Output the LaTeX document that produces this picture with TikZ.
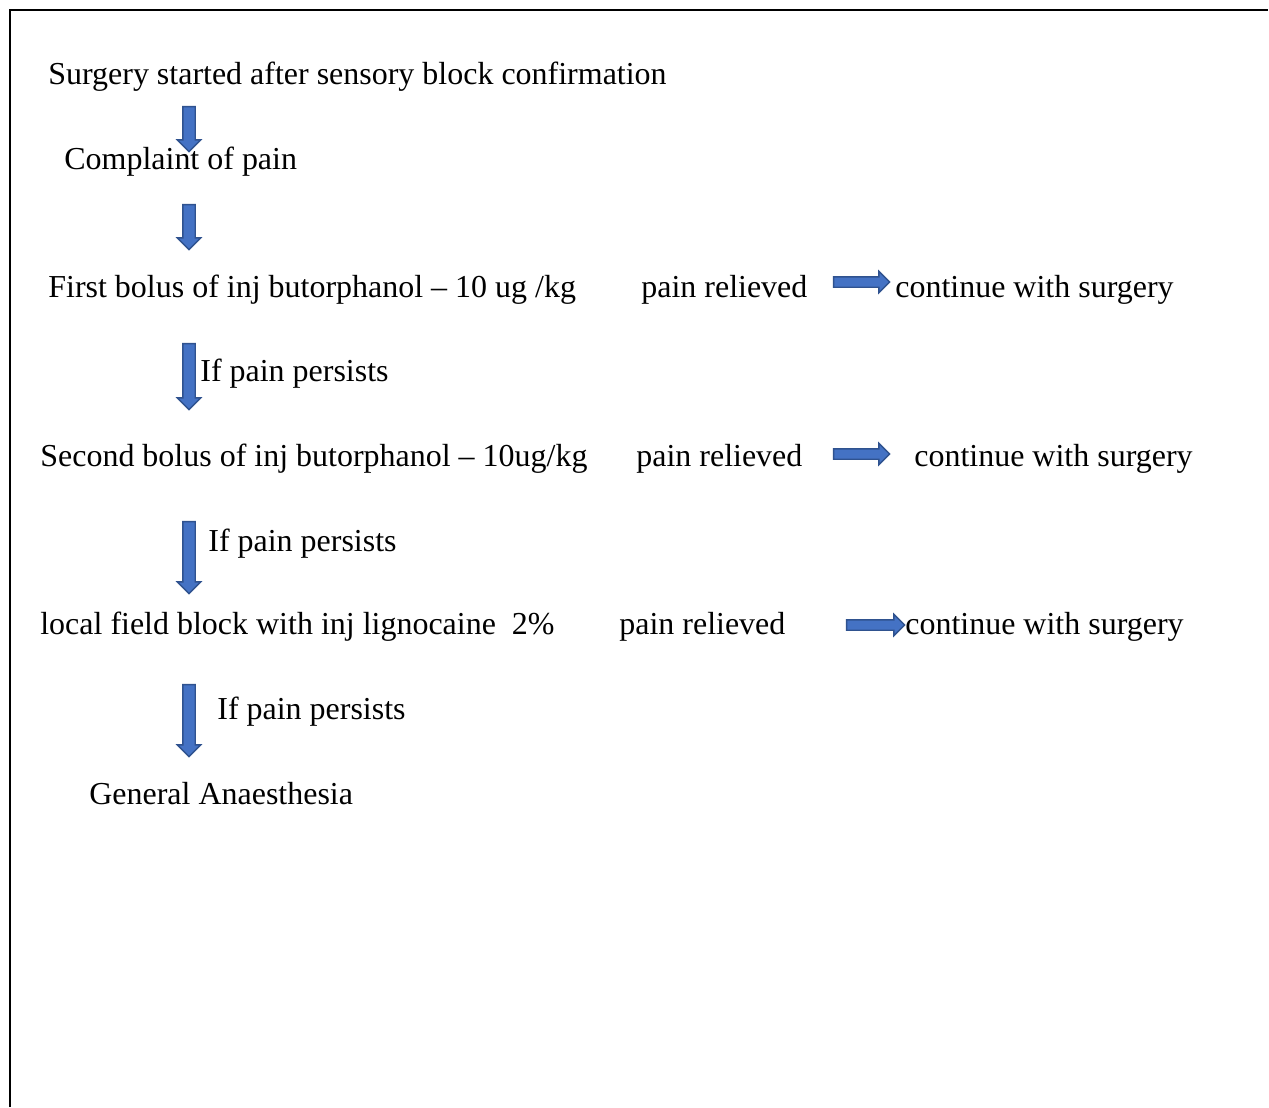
\documentclass[tikz,border=0pt]{standalone}
\usepackage{fontspec}
\setmainfont{Liberation Serif}
\usetikzlibrary{shapes.arrows}
\definecolor{arrowfill}{HTML}{4472C4}
\definecolor{arrowline}{HTML}{2F528F}
\tikzset{
  txt/.style={anchor=base west, inner sep=0pt},
  blockarrow/.style={single arrow, draw=arrowline, fill=arrowfill, line width=0.8pt,
    single arrow tip angle=90},
  downarrow/.style={blockarrow, shape border rotate=270, inner sep=0.11cm,
    single arrow head extend=0.11cm},
  rightarrow/.style={blockarrow, inner xsep=0pt, inner ysep=0.09cm,
    single arrow head extend=0.11cm}
}
\begin{document}
\begin{tikzpicture}[x=0.02cm, y=-0.02cm, font=\fontsize{18.2}{22}\selectfont]
  \useasboundingbox (0,0) rectangle (1269,1107);
  % frame
  \draw[line width=0.045cm] (10,1107) -- (10,10) -- (1268,10);
  % main column
  \node[txt] (start) at (48,84) {Surgery started after sensory block confirmation};
  \node[txt] (pain) at (64,169) {Complaint of pain};
  \node[txt] (bolus1) at (48,297) {First bolus of inj butorphanol -- 10 ug /kg};
  \node[txt] (persist1) at (200,381) {If pain persists};
  \node[txt] (bolus2) at (40,466) {Second bolus of inj butorphanol -- 10ug/kg};
  \node[txt] (persist2) at (208,551) {If pain persists};
  \node[txt] (field) at (40,634) {local field block with inj lignocaine\ \ 2\%};
  \node[txt] (persist3) at (217,719) {If pain persists};
  \node[txt] (ga) at (89,804) {General Anaesthesia};
  % relieved branch
  \node[txt] (rel1) at (641,297) {pain relieved};
  \node[txt] (cont1) at (895,297) {continue with surgery};
  \node[txt] (rel2) at (636,466) {pain relieved};
  \node[txt] (cont2) at (914,466) {continue with surgery};
  \node[txt] (rel3) at (619,634) {pain relieved};
  \node[txt] (cont3) at (905,634) {continue with surgery};
  % down arrows
  \node[downarrow, minimum height=0.9cm] (down1) at (189,126) {};
  \node[downarrow, minimum height=0.9cm] (down2) at (189,224) {};
  \node[downarrow, minimum height=1.32cm] (down3) at (189,373.5) {};
  \node[downarrow, minimum height=1.44cm] (down4) at (189,554.5) {};
  \node[downarrow, minimum height=1.44cm] (down5) at (189,717.5) {};
  % right arrows
  \node[rightarrow, minimum height=1.12cm] (right1) at (859,282) {};
  \node[rightarrow, minimum height=1.12cm] (right2) at (859,454) {};
  \node[rightarrow, minimum height=1.16cm] (right3) at (873,625) {};
\end{tikzpicture}
\end{document}
